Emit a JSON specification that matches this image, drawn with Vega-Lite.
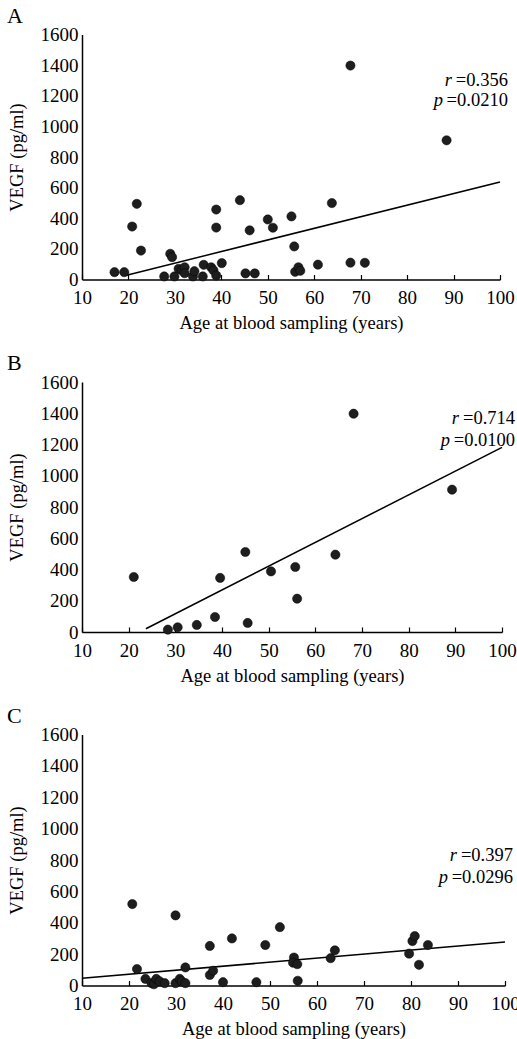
{
  "$schema": "https://vega.github.io/schema/vega-lite/v6.json",
  "padding": {"left": 7, "top": 4.5, "right": 5, "bottom": 0},
  "background": "white",
  "spacing": 19.5,
  "datasets": {
    "A": [
      {"age": 17, "vegf": 48}, {"age": 19.1, "vegf": 48}, {"age": 20.8, "vegf": 346}, {"age": 21.8, "vegf": 494},
      {"age": 22.7, "vegf": 189}, {"age": 27.7, "vegf": 20}, {"age": 29.0, "vegf": 168}, {"age": 29.4, "vegf": 146},
      {"age": 29.9, "vegf": 20}, {"age": 30.8, "vegf": 70}, {"age": 31.5, "vegf": 60}, {"age": 32.1, "vegf": 80},
      {"age": 32.1, "vegf": 41}, {"age": 33.9, "vegf": 20}, {"age": 34.2, "vegf": 54}, {"age": 36.0, "vegf": 20},
      {"age": 36.2, "vegf": 96}, {"age": 37.8, "vegf": 80}, {"age": 38.3, "vegf": 60}, {"age": 38.9, "vegf": 26},
      {"age": 38.9, "vegf": 457}, {"age": 38.9, "vegf": 339}, {"age": 40.1, "vegf": 107}, {"age": 44.0, "vegf": 518},
      {"age": 45.2, "vegf": 40}, {"age": 46.1, "vegf": 321}, {"age": 47.2, "vegf": 40}, {"age": 50.0, "vegf": 392},
      {"age": 51.1, "vegf": 338}, {"age": 55.1, "vegf": 412}, {"age": 55.7, "vegf": 216}, {"age": 55.9, "vegf": 50},
      {"age": 56.6, "vegf": 80}, {"age": 57.0, "vegf": 57}, {"age": 60.8, "vegf": 97}, {"age": 63.8, "vegf": 499},
      {"age": 67.8, "vegf": 1397}, {"age": 67.8, "vegf": 110}, {"age": 70.9, "vegf": 109}, {"age": 88.5, "vegf": 909}
    ],
    "A_fit": [{"age": 19.6, "vegf": 28}, {"age": 100, "vegf": 637}],
    "B": [
      {"age": 21.1, "vegf": 352}, {"age": 28.4, "vegf": 15}, {"age": 30.5, "vegf": 30}, {"age": 34.6, "vegf": 45},
      {"age": 38.5, "vegf": 96}, {"age": 39.6, "vegf": 346}, {"age": 45.0, "vegf": 512}, {"age": 45.5, "vegf": 58},
      {"age": 50.5, "vegf": 388}, {"age": 55.7, "vegf": 416}, {"age": 56.1, "vegf": 213}, {"age": 64.3, "vegf": 495},
      {"age": 68.2, "vegf": 1397}, {"age": 89.3, "vegf": 911}
    ],
    "B_fit": [{"age": 23.7, "vegf": 21}, {"age": 100, "vegf": 1182}],
    "C": [
      {"age": 20.7, "vegf": 519}, {"age": 21.7, "vegf": 105}, {"age": 23.5, "vegf": 42}, {"age": 24.8, "vegf": 15},
      {"age": 25.3, "vegf": 8}, {"age": 25.8, "vegf": 42}, {"age": 26.5, "vegf": 27}, {"age": 27.6, "vegf": 15},
      {"age": 29.9, "vegf": 447}, {"age": 29.9, "vegf": 15}, {"age": 30.8, "vegf": 42}, {"age": 31.2, "vegf": 27},
      {"age": 32.0, "vegf": 115}, {"age": 32.0, "vegf": 15}, {"age": 37.2, "vegf": 252}, {"age": 37.2, "vegf": 67},
      {"age": 37.9, "vegf": 94}, {"age": 40.0, "vegf": 21}, {"age": 41.9, "vegf": 300}, {"age": 47.1, "vegf": 21},
      {"age": 49.0, "vegf": 258}, {"age": 52.1, "vegf": 372}, {"age": 55.1, "vegf": 178}, {"age": 54.9, "vegf": 145},
      {"age": 55.8, "vegf": 136}, {"age": 55.9, "vegf": 30}, {"age": 62.9, "vegf": 174}, {"age": 63.8, "vegf": 224},
      {"age": 79.6, "vegf": 203}, {"age": 80.3, "vegf": 283}, {"age": 80.8, "vegf": 315}, {"age": 81.7, "vegf": 132},
      {"age": 83.6, "vegf": 258}
    ],
    "C_fit": [{"age": 10, "vegf": 46}, {"age": 100, "vegf": 277}],
    "A_r": [{"t": "=0.356"}], "A_p": [{"t": "=0.0210"}],
    "B_r": [{"t": "=0.714"}], "B_p": [{"t": "=0.0100"}],
    "C_r": [{"t": "=0.397"}], "C_p": [{"t": "=0.0296"}],
    "sym_r": [{"t": "r"}], "sym_p": [{"t": "p"}]
  },
  "vconcat": [
    {
      "width": 418, "height": 245,
      "title": {"text": "A"},
      "layer": [
        {"data": {"name": "A_fit"}, "mark": {"type": "line", "color": "black", "strokeWidth": 1.5},
         "encoding": {
           "x": {"field": "age", "type": "quantitative", "scale": {"domain": [10, 100], "nice": false, "zero": false}, "axis": {"title": "Age at blood sampling (years)"}},
           "y": {"field": "vegf", "type": "quantitative", "scale": {"domain": [0, 1600], "nice": false}, "axis": {"title": "VEGF (pg/ml)"}}}},
        {"data": {"name": "A"}, "mark": {"type": "circle", "size": 85, "color": "#1e1e1e", "opacity": 1, "stroke": "#000", "strokeWidth": 0.5},
         "encoding": {"x": {"field": "age", "type": "quantitative"}, "y": {"field": "vegf", "type": "quantitative"}}},
        {"data": {"name": "A_r"}, "mark": {"type": "text", "align": "right", "baseline": "middle", "font": "Liberation Serif", "fontSize": 18.5, "color": "black"}, "encoding": {"x": {"datum": 101.7, "type": "quantitative"}, "y": {"datum": 1306, "type": "quantitative"}, "text": {"field": "t"}}},
        {"data": {"name": "A_p"}, "mark": {"type": "text", "align": "right", "baseline": "middle", "font": "Liberation Serif", "fontSize": 18.5, "color": "black"}, "encoding": {"x": {"datum": 101.7, "type": "quantitative"}, "y": {"datum": 1169, "type": "quantitative"}, "text": {"field": "t"}}},
        {"data": {"name": "sym_r"}, "mark": {"type": "text", "align": "right", "baseline": "middle", "font": "Liberation Serif", "fontStyle": "italic", "fontSize": 18.5, "color": "black", "dx": -56}, "encoding": {"x": {"datum": 101.7, "type": "quantitative"}, "y": {"datum": 1306, "type": "quantitative"}, "text": {"field": "t"}}},
        {"data": {"name": "sym_p"}, "mark": {"type": "text", "align": "right", "baseline": "middle", "font": "Liberation Serif", "fontStyle": "italic", "fontSize": 18.5, "color": "black", "dx": -65}, "encoding": {"x": {"datum": 101.7, "type": "quantitative"}, "y": {"datum": 1169, "type": "quantitative"}, "text": {"field": "t"}}}
      ]
    },
    {
      "width": 420, "height": 250,
      "title": {"text": "B"},
      "layer": [
        {"data": {"name": "B_fit"}, "mark": {"type": "line", "color": "black", "strokeWidth": 1.5},
         "encoding": {
           "x": {"field": "age", "type": "quantitative", "scale": {"domain": [10, 100], "nice": false, "zero": false}, "axis": {"title": "Age at blood sampling (years)"}},
           "y": {"field": "vegf", "type": "quantitative", "scale": {"domain": [0, 1600], "nice": false}, "axis": {"title": "VEGF (pg/ml)"}}}},
        {"data": {"name": "B"}, "mark": {"type": "circle", "size": 85, "color": "#1e1e1e", "opacity": 1, "stroke": "#000", "strokeWidth": 0.5},
         "encoding": {"x": {"field": "age", "type": "quantitative"}, "y": {"field": "vegf", "type": "quantitative"}}},
        {"data": {"name": "B_r"}, "mark": {"type": "text", "align": "right", "baseline": "middle", "font": "Liberation Serif", "fontSize": 18.5, "color": "black"}, "encoding": {"x": {"datum": 102.8, "type": "quantitative"}, "y": {"datum": 1368, "type": "quantitative"}, "text": {"field": "t"}}},
        {"data": {"name": "B_p"}, "mark": {"type": "text", "align": "right", "baseline": "middle", "font": "Liberation Serif", "fontSize": 18.5, "color": "black"}, "encoding": {"x": {"datum": 102.8, "type": "quantitative"}, "y": {"datum": 1229, "type": "quantitative"}, "text": {"field": "t"}}},
        {"data": {"name": "sym_r"}, "mark": {"type": "text", "align": "right", "baseline": "middle", "font": "Liberation Serif", "fontStyle": "italic", "fontSize": 18.5, "color": "black", "dx": -56}, "encoding": {"x": {"datum": 102.8, "type": "quantitative"}, "y": {"datum": 1368, "type": "quantitative"}, "text": {"field": "t"}}},
        {"data": {"name": "sym_p"}, "mark": {"type": "text", "align": "right", "baseline": "middle", "font": "Liberation Serif", "fontStyle": "italic", "fontSize": 18.5, "color": "black", "dx": -65}, "encoding": {"x": {"datum": 102.8, "type": "quantitative"}, "y": {"datum": 1229, "type": "quantitative"}, "text": {"field": "t"}}}
      ]
    },
    {
      "width": 423, "height": 251,
      "title": {"text": "C"},
      "layer": [
        {"data": {"name": "C_fit"}, "mark": {"type": "line", "color": "black", "strokeWidth": 1.5},
         "encoding": {
           "x": {"field": "age", "type": "quantitative", "scale": {"domain": [10, 100], "nice": false, "zero": false}, "axis": {"title": "Age at blood sampling (years)"}},
           "y": {"field": "vegf", "type": "quantitative", "scale": {"domain": [0, 1600], "nice": false}, "axis": {"title": "VEGF (pg/ml)"}}}},
        {"data": {"name": "C"}, "mark": {"type": "circle", "size": 85, "color": "#1e1e1e", "opacity": 1, "stroke": "#000", "strokeWidth": 0.5},
         "encoding": {"x": {"field": "age", "type": "quantitative"}, "y": {"field": "vegf", "type": "quantitative"}}},
        {"data": {"name": "C_r"}, "mark": {"type": "text", "align": "right", "baseline": "middle", "font": "Liberation Serif", "fontSize": 18.5, "color": "black"}, "encoding": {"x": {"datum": 101.7, "type": "quantitative"}, "y": {"datum": 829, "type": "quantitative"}, "text": {"field": "t"}}},
        {"data": {"name": "C_p"}, "mark": {"type": "text", "align": "right", "baseline": "middle", "font": "Liberation Serif", "fontSize": 18.5, "color": "black"}, "encoding": {"x": {"datum": 101.7, "type": "quantitative"}, "y": {"datum": 693, "type": "quantitative"}, "text": {"field": "t"}}},
        {"data": {"name": "sym_r"}, "mark": {"type": "text", "align": "right", "baseline": "middle", "font": "Liberation Serif", "fontStyle": "italic", "fontSize": 18.5, "color": "black", "dx": -56}, "encoding": {"x": {"datum": 101.7, "type": "quantitative"}, "y": {"datum": 829, "type": "quantitative"}, "text": {"field": "t"}}},
        {"data": {"name": "sym_p"}, "mark": {"type": "text", "align": "right", "baseline": "middle", "font": "Liberation Serif", "fontStyle": "italic", "fontSize": 18.5, "color": "black", "dx": -65}, "encoding": {"x": {"datum": 101.7, "type": "quantitative"}, "y": {"datum": 693, "type": "quantitative"}, "text": {"field": "t"}}}
      ]
    }
  ],
  "config": {
    "view": {"stroke": null},
    "title": {"anchor": "start", "frame": "bounds", "font": "Liberation Serif", "fontSize": 22, "fontWeight": "normal", "color": "black", "offset": -2},
    "axis": {
      "grid": false, "domainColor": "black", "domainWidth": 1.5, "tickColor": "black", "tickWidth": 1.2,
      "labelFont": "Liberation Serif", "labelFontSize": 19, "labelColor": "black",
      "titleFont": "Liberation Serif", "titleFontSize": 18.5, "titleFontWeight": "normal", "titleColor": "black"
    },
    "axisX": {"values": [10, 20, 30, 40, 50, 60, 70, 80, 90, 100], "tickSize": -5, "labelPadding": 14, "titlePadding": 6, "format": "d", "labelFlush": false},
    "axisY": {"values": [0, 200, 400, 600, 800, 1000, 1200, 1400, 1600], "tickSize": 0, "labelPadding": 4, "titlePadding": 14, "format": "d", "labelFlush": false}
  }
}
